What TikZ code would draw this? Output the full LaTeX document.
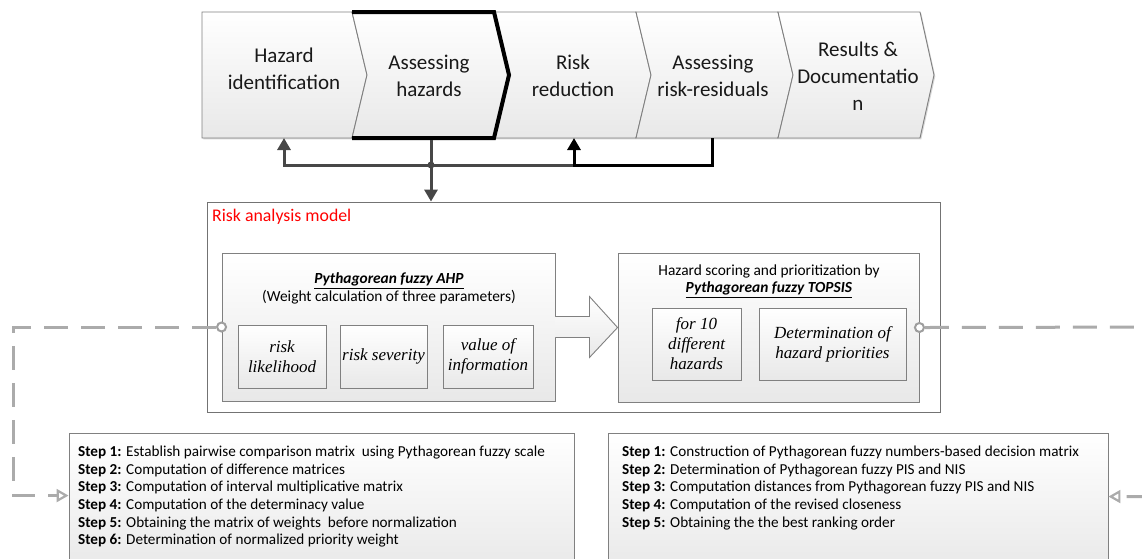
\documentclass[tikz,border=0pt]{standalone}
\usepackage{fontspec}
\setmainfont{Carlito}
\newfontfamily\tnr{Liberation Serif}
\usetikzlibrary{arrows.meta,calc,shadows}
\tikzset{
  boxfill/.style={top color=white, bottom color=black!9, draw=black!50, line width=0.9pt},
  shad/.style={drop shadow={shadow xshift=1.3pt, shadow yshift=-1.3pt, opacity=0.22, fill=black!70}},
  chevtxt/.style={font=\fontsize{21}{27}\selectfont, align=center, text=black!90, inner sep=0pt},
  sbox/.style={boxfill, shad, minimum height=63pt, inner sep=2pt, align=center,
               font=\tnr\itshape\fontsize{17}{20}\selectfont},
  titletxt/.style={font=\fontsize{15.4}{17.5}\selectfont, align=center, inner sep=0pt},
  steptxt/.style={font=\fontsize{15.2}{17.6}\selectfont, align=left, anchor=north west, inner sep=0pt},
  conng/.style={line width=3pt, draw=black!72, -{Triangle[length=12pt,width=13pt]}},
  connk/.style={line width=3pt, draw=black, -{Triangle[length=12pt,width=13pt]}},
  dashc/.style={draw=black!33, line width=3pt, dash pattern=on 24pt off 13pt},
  endcirc/.style={circle, draw=black!38, line width=2pt, fill=white, minimum size=9pt, inner sep=0pt},
}
\begin{document}
\begin{tikzpicture}[x=1pt,y=-1pt]
\useasboundingbox (0,0) rectangle (1142,558);
\clip (0,0) rectangle (1142,558);

% ---- process chevrons ----
\draw[boxfill, shad] (202,12) -- (352,12) -- (367,75) -- (352,138) -- (202,138) -- cycle;
\draw[boxfill, shad] (494,12) -- (636,12) -- (651,75) -- (636,138) -- (494,138) -- (509,75) -- cycle;
\draw[boxfill, shad] (636,12) -- (778,12) -- (793,75) -- (778,138) -- (636,138) -- (651,75) -- cycle;
\draw[boxfill, shad] (778,12) -- (920,12) -- (934,75) -- (920,138) -- (778,138) -- (793,75) -- cycle;
\draw[boxfill, shad] (352,12) -- (494,12) -- (509,75) -- (494,138) -- (352,138) -- (367,75) -- cycle;
\draw[line width=4pt, line join=miter, black] (352,12) -- (494,12) -- (509,75) -- (494,138) -- (352,138);

\node[chevtxt] (c1) at (284,68.5) {Hazard\\identification};
\node[chevtxt] (c2) at (429,76) {Assessing\\hazards};
\node[chevtxt] (c3) at (573,75.5) {Risk\\reduction};
\node[chevtxt] (c4) at (713,75.5) {Assessing\\risk-residuals};
\node[chevtxt] (c5) at (858,76.5) {Results \&\\Documentatio\\n};

\coordinate (c1b) at (284,138);
\coordinate (c2b) at (431,140);
\coordinate (c3b) at (574,138);
\coordinate (c4b) at (712,138);
\coordinate (jn) at (431,165);

% ---- risk analysis model ----
\node[draw=black!55, line width=0.9pt, fill=white, shad, minimum width=733pt, minimum height=210pt, inner sep=0pt]
  (risk) at (573.5,307) {};
\node[anchor=west, text=red, font=\fontsize{17.8}{20}\selectfont, inner sep=0pt] (rtitle) at (212,217) {Risk analysis model};

\node[boxfill, shad, minimum width=333pt, minimum height=148pt, inner sep=0pt] (ahp) at (388.5,327) {};
\node[titletxt] (ahpt) at (389,288.5) {\underline{\textbf{\textit{Pythagorean fuzzy AHP}}}\\(Weight calculation of three parameters)};
\node[sbox, minimum width=88pt] (rl) at (282,356.5) {risk\\likelihood};
\node[sbox, minimum width=87pt] (rs) at (383.5,356.5) {risk severity};
\node[sbox, minimum width=90pt] (vi) at (488,356.5) {value of\\information};

\node[boxfill, shad, minimum width=301pt, minimum height=149pt, inner sep=0pt] (topsis) at (768.5,327.5) {};
\node[titletxt] (topt) at (769,281) {Hazard scoring and prioritization by\\\underline{\textbf{\textit{Pythagorean fuzzy TOPSIS}}}};
\node[sbox, minimum width=89pt, minimum height=72pt] (fd) at (696.5,344) {for 10\\different\\hazards};
\node[sbox, minimum width=147pt, minimum height=72pt] (dh) at (832.5,344) {Determination of\\hazard priorities};

% block arrow AHP -> TOPSIS
\draw[boxfill] ($(ahp.east)+(0,-10.5)$) -- ($(ahp.east)+(34,-10.5)$) -- ($(ahp.east)+(34,-30.5)$)
  -- (topsis.west) -- ($(ahp.east)+(34,30.5)$) -- ($(ahp.east)+(34,10.5)$) -- ($(ahp.east)+(0,10.5)$);

% ---- connectors among chevrons ----
\draw[conng] (c2b) -- (c2b |- risk.north);
\draw[conng] (jn) -| (c1b);
\draw[line width=3pt, draw=black!72] (jn) -- (c3b |- jn);
\draw[connk, line join=miter] (c4b) |- (c3b |- jn) -- (c3b);
\fill[black!72] (jn) circle (3.5pt);

% ---- step boxes ----
\node[boxfill, shad, minimum width=505pt, minimum height=140pt, inner sep=0pt] (st1) at (321.5,503) {};
\node[boxfill, shad, minimum width=500pt, minimum height=140pt, inner sep=0pt] (st2) at (858,503) {};
\node[steptxt] (t1) at (78,446) {\textbf{Step 1:} Establish pairwise comparison matrix \ using Pythagorean fuzzy scale\\
\textbf{Step 2:} Computation of difference matrices\\
\textbf{Step 3:} Computation of interval multiplicative matrix\\
\textbf{Step 4:} Computation of the determinacy value\\
\textbf{Step 5:} Obtaining the matrix of weights \ before normalization\\
\textbf{Step 6:} Determination of normalized priority weight};
\node[steptxt] (t2) at (622,446) {\textbf{Step 1:} Construction of Pythagorean fuzzy numbers-based decision matrix\\
\textbf{Step 2:} Determination of Pythagorean fuzzy PIS and NIS\\
\textbf{Step 3:} Computation distances from Pythagorean fuzzy PIS and NIS\\
\textbf{Step 4:} Computation of the revised closeness\\
\textbf{Step 5:} Obtaining the the best ranking order};

% ---- dashed feedback connectors ----
\node[endcirc] (cL) at (ahp.west) {};
\node[endcirc] (cR) at (topsis.east) {};
\coordinate (inL) at ($(st1.north west)+(0,63)$);
\coordinate (inR) at ($(st2.north east)+(0,64)$);
\coordinate (bendL) at (13,327);
\coordinate (bendR) at (1175,327);
\draw[dashc, -{Triangle[open, length=12pt, width=13pt, line width=2.2pt]}] (cL.west) -- (bendL) |- (inL);
\draw[dashc, -{Triangle[open, length=12pt, width=13pt, line width=2.2pt]}] (cR.east) -- (bendR) |- (inR);
\end{tikzpicture}
\end{document}
